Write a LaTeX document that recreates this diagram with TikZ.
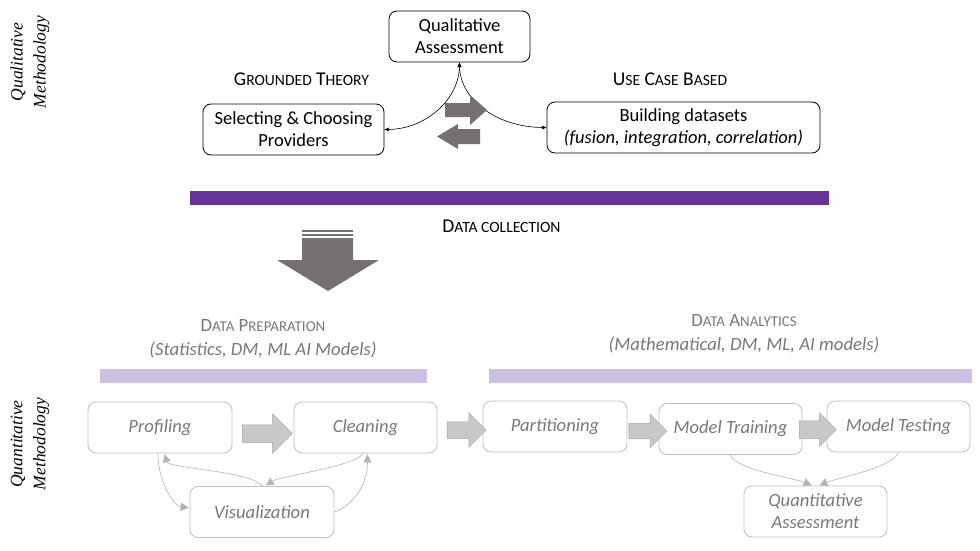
\documentclass[tikz,border=0pt]{standalone}
\usepackage{fontspec}
\setmainfont{Carlito}
\newfontfamily\sideserif{Liberation Serif}
\usepackage{scalefnt}
\usetikzlibrary{arrows.meta,shapes.arrows}

\definecolor{swapgray}{RGB}{118,113,113}
\definecolor{collectpurple}{RGB}{102,51,153}
\definecolor{phasepurple}{RGB}{203,192,224}
\definecolor{boxgray}{RGB}{191,191,191}
\definecolor{textgray}{RGB}{120,120,120}
\definecolor{arrowfill}{RGB}{200,200,200}
\definecolor{arrowedge}{RGB}{165,165,165}
\definecolor{loopgray}{RGB}{178,178,178}

% fake small caps
\newcommand{\capsc}[2]{#1{\scalefont{0.8}#2}}

\begin{document}
\begin{tikzpicture}[x=1pt,y=-1pt,
    topbox/.style={draw, rounded corners=8pt, line width=0.8pt, minimum width=#1,
      minimum height=51pt, align=center, inner sep=2pt,
      font=\fontsize{18.5}{22}\selectfont},
    stepbox/.style={draw=boxgray, rounded corners=8pt, line width=0.8pt, minimum width=#1,
      minimum height=51pt, align=center, inner sep=2pt, text=textgray,
      font=\itshape\fontsize{18.6}{22}\selectfont},
    toplabel/.style={font=\fontsize{19.5}{22}\selectfont},
    phaselabel/.style={text=textgray, align=center, font=\fontsize{18.7}{24}\selectfont},
    sidelabel/.style={rotate=90, align=center, font=\sideserif\itshape\fontsize{17.5}{23}\selectfont},
    flowarrow/.style={single arrow, draw=arrowedge, fill=arrowfill, line width=0.5pt,
      inner xsep=0pt, single arrow head indent=0pt},
    loop/.style={draw=loopgray, line width=0.6pt, -{Triangle[length=8pt,width=8pt]}, shorten >=1pt},
    link/.style={draw, line width=0.6pt, {Stealth[length=5pt,width=4pt]}-{Stealth[length=5pt,width=4pt]}}
  ]
  \useasboundingbox (0,0) rectangle (980,551);

  % Side labels
  \node[sidelabel] (qual) at (30,62) {Qualitative\\Methodology};
  \node[sidelabel] (quant) at (30,444) {Quantitative\\Methodology};

  % Qualitative part
  \node[topbox=141pt] (qa) at (459.5,36.5) {Qualitative\\Assessment};
  \node[topbox=181pt] (sel) at (293.5,129.5) {Selecting \& Choosing\\Providers};
  \node[topbox=273pt] (build) at (683.5,127.5) {Building datasets\\\textit{(fusion, integration, correlation)}};
  \node[toplabel] (grounded) at (301.5,79) {\capsc{G}{ROUNDED} \capsc{T}{HEORY}};
  \node[toplabel] (usecase) at (670,79) {\capsc{U}{SE} \capsc{C}{ASE} \capsc{B}{ASED}};

  \path[link] (sel.east) .. controls +(41,0) and +(0,37) .. (qa.south);
  \path[link] (qa.south) .. controls +(0,37) and +(-50,0) .. (build.west);

  % Swap arrows
  \fill[swapgray] (445,103) -- (470,103) -- (470,95) -- (487,110) -- (470,125) -- (470,117) -- (445,117) -- cycle;
  \fill[swapgray] (480,129) -- (458,129) -- (458,124) -- (437,136.5) -- (458,149) -- (458,144) -- (480,144) -- cycle;

  % Data collection
  \fill[collectpurple] (190,191) rectangle (829,205);
  \node[toplabel] (collect) at (501.5,226) {\capsc{D}{ATA COLLECTION}};
  \fill[swapgray] (302,229.5) rectangle (353,231.5);
  \fill[swapgray] (302,233.5) rectangle (353,235.5);
  \fill[swapgray] (302,238) -- (353,238) -- (353,260) -- (379,260) -- (328,291) -- (277,260) -- (302,260) -- cycle;

  % Phases
  \node[phaselabel] (prep) at (263,339) {\capsc{D}{ATA} \capsc{P}{REPARATION}\\\textit{(Statistics, DM, ML AI Models)}};
  \node[phaselabel] (analytics) at (744,334) {\capsc{D}{ATA} \capsc{A}{NALYTICS}\\\textit{(Mathematical, DM, ML, AI models)}};
  \fill[phasepurple] (100,369) rectangle (427,383);
  \fill[phasepurple] (489,369) rectangle (972,383);

  % Quantitative steps
  \node[stepbox=144pt] (prof) at (160,427.5) {Profiling};
  \node[stepbox=143pt] (clean) at (365.5,427.5) {Cleaning};
  \node[stepbox=144pt] (vis) at (262,512) {Visualization};
  \node[stepbox=144pt] (part) at (555,426.5) {Partitioning};
  \node[stepbox=143pt] (train) at (730.5,429) {Model Training};
  \node[stepbox=143pt] (test) at (898.5,426.5) {Model Testing};
  \node[stepbox=143pt] (quanta) at (815.5,511.5) {Quantitative\\Assessment};

  \node[flowarrow, minimum height=50pt, inner ysep=8.5pt, single arrow head extend=11pt] (f1) at (263,433.5) {};
  \node[flowarrow, minimum height=39pt, inner ysep=8pt, single arrow head extend=9pt] (f2) at (462.5,430) {};
  \node[flowarrow, minimum height=38pt, inner ysep=7.5pt, single arrow head extend=9pt] (f3) at (644,431) {};
  \node[flowarrow, minimum height=37pt, inner ysep=8.5pt, single arrow head extend=8pt] (f4) at (813.5,429.5) {};

  % Feedback loops
  \path[loop] (vis.north) .. controls +(-10,-15) and +(5,15) .. ([xshift=4pt]prof.south);
  \path[loop] ([xshift=-2pt]prof.south) .. controls +(0,30) and +(-15,-2) .. ([yshift=4pt]vis.west);
  \path[loop] (vis.east) .. controls +(15,-5) and +(0,35) .. ([xshift=2pt]clean.south);
  \path[loop] ([xshift=-3pt]clean.south) .. controls +(-3,12) and +(15,-10) .. ([xshift=3pt]vis.north);
  \path[loop] (train.south) .. controls +(5,15) and +(-20,-8) .. ([xshift=-3pt]quanta.north);
  \path[loop] (test.south) .. controls +(-5,15) and +(20,-8) .. ([xshift=3pt]quanta.north);
\end{tikzpicture}
\end{document}
